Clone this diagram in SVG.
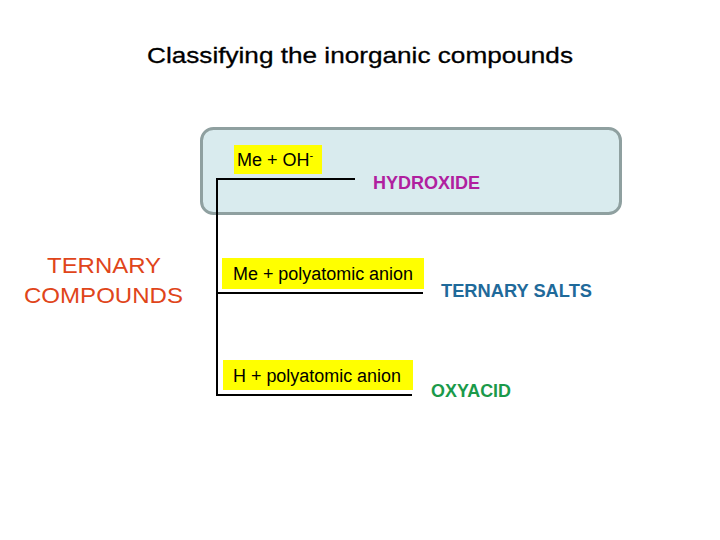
<svg xmlns="http://www.w3.org/2000/svg" width="720" height="540" viewBox="0 0 720 540">
<style>
text{font-family:"Liberation Sans",Arial,sans-serif}
.lbl{font-size:18px;fill:#000}
.res{font-size:18px;font-weight:bold}
.hl{fill:#ffff00}
.ln{stroke:#000;stroke-width:2;fill:none}
</style>
<rect width="720" height="540" fill="#fff"/>
<text x="147" y="63" font-size="22.5" fill="#000" stroke="#000" stroke-width="0.3" textLength="426" lengthAdjust="spacingAndGlyphs">Classifying the inorganic compounds</text>
<rect id="group-box" x="201.5" y="128.5" width="419" height="85" rx="12" fill="#d9ebee" stroke="#8fa0a0" stroke-width="3"/>
<g id="connectors">
<path class="ln" d="M240 179H217V396"/>
<path class="ln" d="M240 179H355"/>
<path class="ln" d="M217 293H423"/>
<path class="ln" d="M217 395H412"/>
</g>
<g id="ternary">
<text x="47" y="273" font-size="22" fill="#e0451a" textLength="114" lengthAdjust="spacingAndGlyphs">TERNARY</text>
<text x="24" y="303" font-size="22" fill="#e0451a" textLength="159" lengthAdjust="spacingAndGlyphs">COMPOUNDS</text>
</g>
<g id="me-oh">
<rect class="hl" x="234" y="145" width="88" height="29"/>
<text class="lbl" x="237" y="166">Me + OH<tspan font-size="11" dy="-7">-</tspan></text>
</g>
<g id="hydroxide"><text class="res" x="373" y="189" fill="#b0209f" textLength="107" lengthAdjust="spacingAndGlyphs">HYDROXIDE</text></g>
<g id="me-poly">
<rect class="hl" x="222" y="258" width="202" height="31"/>
<text class="lbl" x="233" y="280" textLength="180" lengthAdjust="spacingAndGlyphs">Me + polyatomic anion</text>
</g>
<g id="salts"><text class="res" x="441" y="297" fill="#1f6a9a" textLength="151" lengthAdjust="spacingAndGlyphs">TERNARY SALTS</text></g>
<g id="h-poly">
<rect class="hl" x="223" y="360" width="190" height="30"/>
<text class="lbl" x="233" y="382" textLength="168" lengthAdjust="spacingAndGlyphs">H + polyatomic anion</text>
</g>
<g id="oxyacid"><text class="res" x="431" y="397" fill="#1a9a4a" textLength="80" lengthAdjust="spacingAndGlyphs">OXYACID</text></g>
</svg>
